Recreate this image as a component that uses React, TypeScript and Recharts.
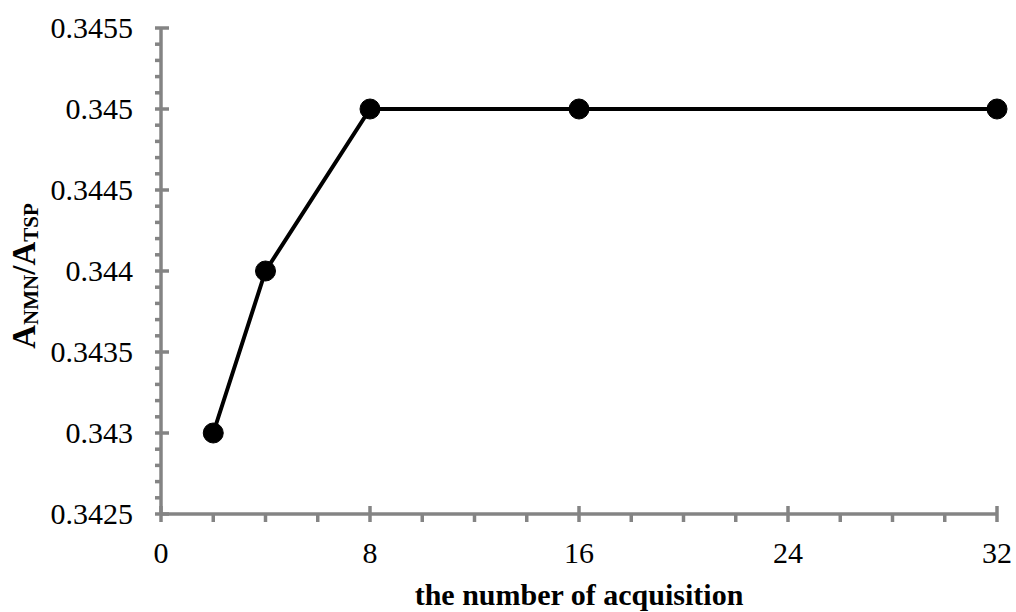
import React from "react"
import { LineChart, Line, XAxis, YAxis } from "recharts"

// measured values
const acquisitions = [2, 4, 8, 16, 32]
const ratios = [0.343, 0.344, 0.345, 0.345, 0.345]

const xMajorTicks = [0, 8, 16, 24, 32]
const yMajorTicks = [0.3425, 0.343, 0.3435, 0.344, 0.3445, 0.345, 0.3455]
const yTickLabels = ["0.3425", "0.343", "0.3435", "0.344", "0.3445", "0.345", "0.3455"]

const xAxisTitle = "the number of acquisition"

const data = acquisitions.map((n, i) => ({ n, ratio: ratios[i] }))

// minor tick marks: 4 between x majors, 5 intervals between y majors
const xTicks: number[] = []
for (let i = 0; i < xMajorTicks.length - 1; i++) {
  const step = (xMajorTicks[i + 1] - xMajorTicks[i]) / 4
  for (let k = 0; k < 4; k++) xTicks.push(xMajorTicks[i] + step * k)
}
xTicks.push(xMajorTicks[xMajorTicks.length - 1])

const yTicks: number[] = []
for (let i = 0; i < yMajorTicks.length - 1; i++) {
  const step = (yMajorTicks[i + 1] - yMajorTicks[i]) / 5
  for (let k = 0; k < 5; k++) yTicks.push(yMajorTicks[i] + step * k)
}
yTicks.push(yMajorTicks[yMajorTicks.length - 1])

const FONT = '"Liberation Serif", "Times New Roman", serif'
const AXIS = "#848484"

const XTick = (props: any) => {
  const { x, y, payload } = props
  const major = xMajorTicks.some((t) => Math.abs(t - payload.value) < 1e-9)
  return (
    <g>
      <line x1={x} x2={x} y1={major ? y - 8 : y} y2={y + 8} stroke={AXIS} strokeWidth={3.5} />
      {major && (
        <text x={x} y={y + 49} textAnchor="middle" fontFamily={FONT} fontSize={30} fill="#000">
          {payload.value}
        </text>
      )}
    </g>
  )
}

const YTick = (props: any) => {
  const { x, y, payload } = props
  const idx = yMajorTicks.findIndex((t) => Math.abs(t - payload.value) < 1e-9)
  const major = idx >= 0
  return (
    <g>
      <line x1={x - 6} x2={major ? x + 8 : x} y1={y} y2={y} stroke={AXIS} strokeWidth={3.5} />
      {major && (
        <text x={x - 28} y={y + 10} textAnchor="end" fontFamily={FONT} fontSize={30} fill="#000">
          {yTickLabels[idx]}
        </text>
      )}
    </g>
  )
}

const XTitle = (props: any) => {
  const { x, y, width } = props.viewBox
  return (
    <text x={x + width / 2} y={y + 91} textAnchor="middle" fontFamily={FONT} fontSize={30} fontWeight="bold" fill="#000">
      {xAxisTitle}
    </text>
  )
}

const YTitle = (props: any) => {
  const { y, height } = props.viewBox
  const cx = 35
  const cy = y + height / 2 + 5
  return (
    <text
      x={cx}
      y={cy}
      transform={`rotate(-90 ${cx} ${cy})`}
      textAnchor="middle"
      fontFamily={FONT}
      fontSize={33}
      fontWeight="bold"
      fill="#000"
    >
      A<tspan fontSize={21} dy={3}>NMN</tspan>
      <tspan dy={-3}>/A</tspan>
      <tspan fontSize={21} dy={3}>TSP</tspan>
    </text>
  )
}

export default function App() {
  return (
    <div style={{ position: "absolute", left: 0, top: 0, width: 1016, height: 612, background: "#fff" }}>
      <LineChart width={1016} height={612} data={data} margin={{ top: 28, right: 19, bottom: 0, left: 0 }}>
        <XAxis
          type="number"
          dataKey="n"
          domain={[0, 32]}
          ticks={xTicks}
          interval={0}
          height={98}
          tickSize={0}
          tickMargin={0}
          tickLine={false}
          tick={<XTick />}
          axisLine={{ stroke: AXIS, strokeWidth: 3.5 }}
          label={<XTitle />}
        />
        <YAxis
          type="number"
          domain={[0.3425, 0.3455]}
          ticks={yTicks}
          interval={0}
          width={161}
          tickSize={0}
          tickMargin={0}
          tickLine={false}
          tick={<YTick />}
          axisLine={{ stroke: AXIS, strokeWidth: 3.5 }}
          label={<YTitle />}
        />
        <Line
          type="linear"
          dataKey="ratio"
          stroke="#000"
          strokeWidth={4}
          dot={{ r: 10, fill: "#000", stroke: "#000", strokeWidth: 1 }}
          isAnimationActive={false}
        />
      </LineChart>
    </div>
  )
}
